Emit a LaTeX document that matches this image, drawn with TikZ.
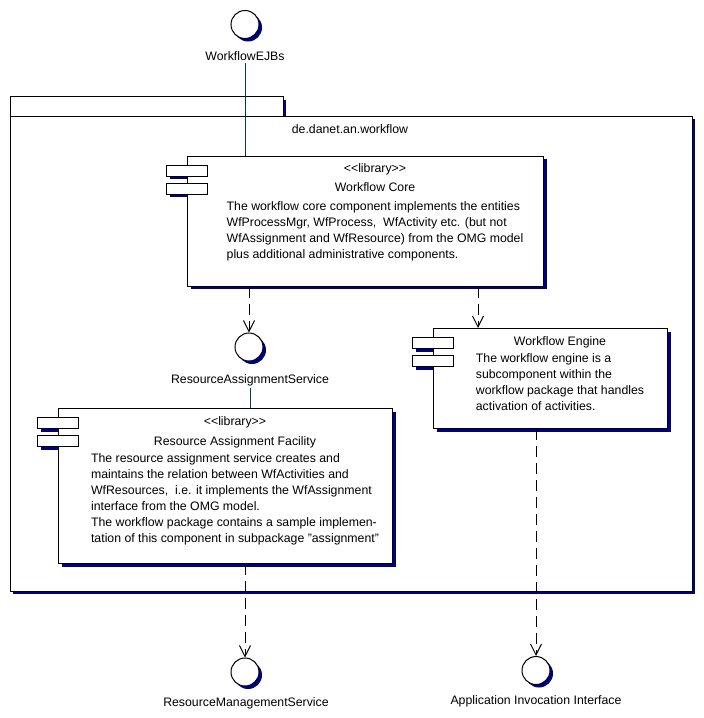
\documentclass[tikz,border=0pt]{standalone}
\usepackage{fontspec}
\setmainfont{Liberation Sans}
\usetikzlibrary{arrows.meta,shadows,positioning}
\definecolor{shadowblue}{RGB}{0,0,128}
\definecolor{linkteal}{RGB}{0,64,64}
\tikzset{
  shade box/.style={drop shadow={shadow xshift=3pt, shadow yshift=-3pt, fill=shadowblue, opacity=1}},
  compbox/.style={draw, fill=white, line width=1pt, shade box, inner sep=0pt, anchor=north west},
  port/.style={draw, fill=white, line width=1pt, minimum width=41pt, minimum height=11pt, inner sep=0pt},
  iface/.style={circle, draw, fill=white, line width=1pt, minimum size=28pt, inner sep=0pt, shade box},
  ilabel/.style={inner sep=2pt, anchor=mid, yshift=-2.5pt},
  bodytext/.style={inner sep=0pt, anchor=north, align=left},
  dep/.style={line width=1pt, dash pattern=on 11pt off 6pt, -{Straight Barb[length=11pt,width=11pt]}},
  realize/.style={line width=1pt, draw=linkteal}
}
% two ports on the left edge of a component
\newcommand{\compports}[1]{%
  \foreach \dy/\k in {15/a,33/b}{%
    \fill[shadowblue] ([xshift=-17.5pt,yshift=-\dy pt-5.5pt]#1.north west) rectangle ([yshift=-\dy pt-8.5pt]#1.north west);
    \node[port] (#1-\k) at ([yshift=-\dy pt]#1.north west) {};
  }}
\begin{document}
\begin{tikzpicture}[x=1pt, y=-1pt, font=\fontsize{12.3}{16}\selectfont]
  \useasboundingbox (0,0) rectangle (704,718);
  % package
  \draw[line width=1pt, fill=white, shade box] (10,96.5) rectangle (283,116);
  \draw[line width=1pt, fill=white, shade box] (10,116) rectangle (692,591);
  \node[ilabel] (pkgname) at (350,128) {de.danet.an.workflow};

  % interfaces
  \node[iface] (ejb) at (245,24.5) {};
  \node[ilabel] (ejb-name) at (245,55.5) {WorkflowEJBs};
  \node[iface] (ras) at (249,347) {};
  \node[ilabel] (ras-name) at (250,378) {ResourceAssignmentService};
  \node[iface] (rms) at (245,672) {};
  \node[ilabel] (rms-name) at (246,701) {ResourceManagementService};
  \node[iface] (aii) at (536,670.5) {};
  \node[ilabel] (aii-name) at (536,699) {Application Invocation Interface};

  % Workflow Core
  \node[compbox, minimum width=356pt, minimum height=130pt] (core) at (187,155.5) {};
  \compports{core}
  \node[ilabel] (core-st) at (375,167) {<{}<library>{}>};
  \node[ilabel] (core-title) at (375,186) {Workflow Core};
  \node[bodytext] (core-txt) at (375,201) {The workflow core component implements the entities\\
    WfProcessMgr, WfProcess,\ \ WfActivity etc. (but not\\
    WfAssignment and WfResource) from the OMG model\\
    plus additional administrative components.};

  % Workflow Engine
  \node[compbox, minimum width=234pt, minimum height=100pt] (engine) at (433,328) {};
  \compports{engine}
  \node[ilabel] (engine-title) at (560,340) {Workflow Engine};
  \node[bodytext] (engine-txt) at (560,353) {The workflow engine is a\\
    subcomponent within the\\
    workflow package that handles\\
    activation of activities.};

  % Resource Assignment Facility
  \node[compbox, minimum width=334pt, minimum height=155pt] (facility) at (58,408) {};
  \compports{facility}
  \node[ilabel] (fac-st) at (235,420) {<{}<library>{}>};
  \node[ilabel] (fac-title) at (235,440) {Resource Assignment Facility};
  \node[bodytext] (fac-txt) at (235,453) {The resource assignment service creates and\\
    maintains the relation between WfActivities and\\
    WfResources,\ \ i.e. it implements the WfAssignment\\
    interface from the OMG model.\\
    The workflow package contains a sample implemen-\\
    tation of this component in subpackage "assignment"};

  % connectors
  \coordinate (eng-in) at ([xshift=45pt]engine.north west);
  \draw[realize] (ejb-name.south) -- (ejb-name.south |- core.north);
  \draw[realize] (ras-name.south) -- (ras-name.south |- facility.north);
  \draw[dep] (core.south -| ras) -- (ras.north);
  \draw[dep] (core.south -| eng-in) -- (eng-in);
  \draw[dep] (facility.south -| rms) -- (rms.north);
  \draw[dep] (engine.south -| aii) -- (aii.north);
\end{tikzpicture}
\end{document}
